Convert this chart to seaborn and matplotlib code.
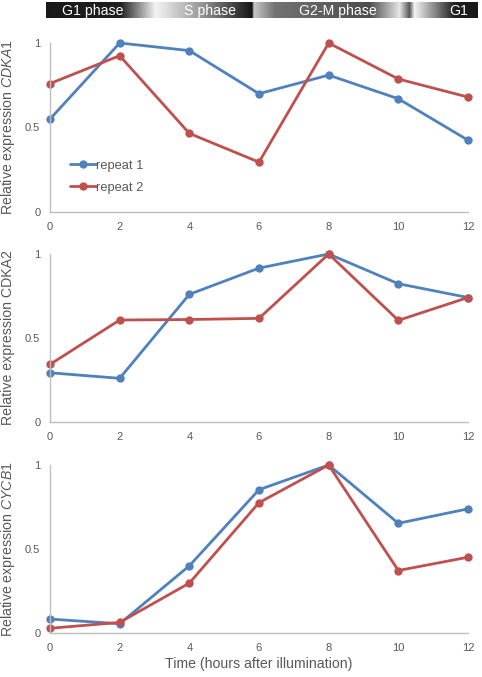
import numpy as np
import pandas as pd
import matplotlib
matplotlib.use('Agg')
import matplotlib.pyplot as plt
import seaborn as sns

# time points (hours after illumination)
hours = [0, 2, 4, 6, 8, 10, 12]

# relative expression values
cdka1_rep1 = [0.55, 1.00, 0.955, 0.70, 0.81, 0.67, 0.425]
cdka1_rep2 = [0.76, 0.925, 0.465, 0.295, 1.00, 0.787, 0.68]
cdka2_rep1 = [0.293, 0.26, 0.76, 0.916, 1.00, 0.823, 0.741]
cdka2_rep2 = [0.343, 0.607, 0.61, 0.617, 1.00, 0.605, 0.741]
cycb1_rep1 = [0.083, 0.055, 0.40, 0.853, 1.00, 0.653, 0.739]
cycb1_rep2 = [0.028, 0.063, 0.297, 0.776, 1.00, 0.372, 0.451]

repeat_names = ['repeat 1', 'repeat 2']
phase_labels = ['G1 phase', 'S phase', 'G2-M phase', 'G1']
y_ticks = [0, 0.5, 1]
y_tick_labels = ['0', '0.5', '1']

sns.set_theme(style='white')
plt.rcParams['font.family'] = ['Liberation Sans', 'DejaVu Sans']
plt.rcParams['mathtext.fontset'] = 'custom'
plt.rcParams['mathtext.rm'] = 'Liberation Sans'
plt.rcParams['mathtext.it'] = 'Liberation Sans:italic'

blue = '#4F81BD'
red = '#C0504D'
spine_col = '#BFBFBF'
text_col = '#595959'

fig = plt.figure(figsize=(4.82, 6.77), dpi=100)
W, H = 482, 677

# phase bar on top: gray gradient drawn as an image
bar_ax = fig.add_axes([46 / W, 1 - 18 / H, (478 - 46) / W, 16 / H])
px = np.arange(46, 479)
prof_x = [46, 120, 155, 160, 200, 252, 254, 275, 370, 400, 410, 415, 455, 478]
prof_v = [0.1, 0.12, 0.95, 0.92, 0.6, 0.08, 0.78, 0.45, 0.3, 0.9, 0.35, 0.95, 0.12, 0.1]
grad = np.interp(px, prof_x, prof_v)
bar_ax.imshow(grad[np.newaxis, :], cmap='gray', vmin=0, vmax=1, aspect='auto',
              extent=[46, 478, 0, 1])
bar_ax.set_xlim(46, 478)
bar_ax.set_ylim(0, 1)
bar_ax.axis('off')
for lab, cx in zip(phase_labels, [93, 210, 338, 459]):
    bar_ax.text(cx, 0.45, lab, color='white', fontsize=10.2, ha='center', va='center')

panels = [
    (cdka1_rep1, cdka1_rep2, 'Relative expression $\\it{CDKA1}$', 43, 212),
    (cdka2_rep1, cdka2_rep2, 'Relative expression CDKA2', 254, 422),
    (cycb1_rep1, cycb1_rep2, 'Relative expression $\\it{CYCB1}$', 465, 633),
]

axes = []
for i, (r1, r2, ylab, top, bottom) in enumerate(panels):
    ax = fig.add_axes([50 / W, 1 - bottom / H, 418 / W, (bottom - top) / H])
    df = pd.DataFrame({
        'time': hours + hours,
        'value': r1 + r2,
        'repeat': [repeat_names[0]] * len(hours) + [repeat_names[1]] * len(hours),
    })
    sns.lineplot(data=df, x='time', y='value', hue='repeat', palette=[blue, red],
                 marker='o', markersize=6, markeredgewidth=0, linewidth=2,
                 clip_on=False, ax=ax, legend=(i == 0))
    ax.set_xlim(0, 12)
    ax.set_ylim(0, 1)
    ax.set_xticks(hours)
    ax.set_yticks(y_ticks)
    ax.set_yticklabels(y_tick_labels)
    ax.tick_params(axis='both', length=0, labelsize=8, labelcolor=text_col, pad=7)
    for s in ['top', 'right']:
        ax.spines[s].set_visible(False)
    for s in ['left', 'bottom']:
        ax.spines[s].set_color(spine_col)
        ax.spines[s].set_linewidth(1)
    ax.set_ylabel(ylab, fontsize=10.2, color=text_col)
    ax.yaxis.set_label_coords((8 - 50) / 418, 0.5)
    ax.yaxis.label.set_va('center')
    ax.set_xlabel('')
    axes.append(ax)

leg = axes[0].legend(loc='lower left', bbox_to_anchor=(0.02, 0.04), frameon=False,
                     fontsize=9.3, handlelength=2.0, handletextpad=0.05, labelspacing=0.75,
                     labelcolor=text_col)
axes[2].set_xlabel('Time (hours after illumination)', fontsize=10.2, color=text_col,
                   labelpad=3)

fig.savefig('out.png', dpi=100)
